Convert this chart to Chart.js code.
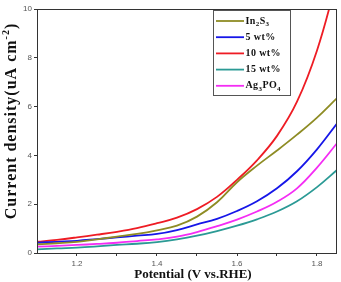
<!DOCTYPE html>
<html>
<head>
<meta charset="utf-8">
<script src="https://cdn.jsdelivr.net/npm/chart.js@4/dist/chart.umd.min.js"></script>
<style>
  html, body { margin: 0; padding: 0; background: #fff; }
  #wrap { width: 341px; height: 282px; position: relative; }
</style>
</head>
<body>
<div id="wrap"><canvas id="c" width="341" height="282"></canvas></div>
<script>
// ---- data ----
const potentials = [1.1, 1.15, 1.2, 1.25, 1.3, 1.35, 1.4, 1.45, 1.5, 1.55, 1.6, 1.65, 1.7, 1.75, 1.8, 1.85];
const in2s3  = [0.35, 0.40, 0.46, 0.56, 0.67, 0.78, 0.93, 1.12, 1.49, 2.08, 2.90, 3.58, 4.20, 4.85, 5.55, 6.35];
const wt5    = [0.42, 0.46, 0.50, 0.57, 0.64, 0.71, 0.78, 0.94, 1.17, 1.40, 1.72, 2.12, 2.65, 3.35, 4.25, 5.31];
const wt10   = [0.46, 0.54, 0.64, 0.75, 0.87, 1.02, 1.22, 1.45, 1.80, 2.30, 3.00, 3.80, 4.80, 6.20, 8.30, 11.2];
const wt15   = [0.15, 0.19, 0.22, 0.27, 0.33, 0.38, 0.45, 0.56, 0.71, 0.90, 1.12, 1.38, 1.70, 2.12, 2.70, 3.40];
const ag3po4 = [0.26, 0.29, 0.33, 0.37, 0.42, 0.49, 0.56, 0.67, 0.86, 1.10, 1.37, 1.70, 2.10, 2.65, 3.50, 4.50];

const seriesLabels = ['In2S3', '5 wt%', '10 wt%', '15 wt%', 'Ag3PO4'];
const seriesValues = [in2s3, wt5, wt10, wt15, ag3po4];
const seriesColors = ['#8E8C24', '#1616E8', '#EE1C24', '#2B9A95', '#F42CF4'];

const xTickLabels = [1.2, 1.4, 1.6, 1.8];
const xTickMarks = [1.2, 1.3, 1.4, 1.5, 1.6, 1.7, 1.8];
const yTickLabels = [0, 2, 4, 6, 8, 10];
const xTitle = 'Potential (V vs.RHE)';
const yTitleMain = 'Current density(uA cm';
const yTitleSup = '-2';
const yTitleEnd = ')';

const datasets = seriesLabels.map((lab, i) => ({
  label: lab,
  data: potentials.map((x, j) => ({ x: x, y: seriesValues[i][j] })),
  borderColor: seriesColors[i],
  backgroundColor: seriesColors[i],
  borderWidth: 1.8,
  pointRadius: 0,
  tension: 0.4,
  fill: false
}));

// draws frame, axis titles and legend
const decor = {
  id: 'decor',
  afterDraw(chart) {
    const ctx = chart.ctx;
    const a = chart.chartArea;
    ctx.save();
    // frame
    ctx.strokeStyle = '#333';
    ctx.lineWidth = 1;
    ctx.strokeRect(Math.round(a.left) + 0.5, Math.round(a.top) + 0.5,
                   Math.round(a.right - a.left) - 1, Math.round(a.bottom - a.top));
    // x title
    ctx.fillStyle = '#111';
    ctx.font = 'bold 13px "Liberation Serif", "Times New Roman", serif';
    ctx.textAlign = 'center';
    ctx.textBaseline = 'middle';
    ctx.fillText(xTitle, 193, 275);
    // y title (rotated)
    ctx.save();
    ctx.translate(12, 121);
    ctx.rotate(-Math.PI / 2);
    ctx.letterSpacing = '1px';
    const fMain = 'bold 16px "Liberation Serif", "Times New Roman", serif';
    const fSup = 'bold 10px "Liberation Serif", "Times New Roman", serif';
    ctx.font = fMain;
    const w1 = ctx.measureText(yTitleMain).width;
    const w3 = ctx.measureText(yTitleEnd).width;
    ctx.font = fSup;
    const w2 = ctx.measureText(yTitleSup).width;
    let x0 = -(w1 + w2 + w3) / 2;
    ctx.textAlign = 'left';
    ctx.font = fMain;
    ctx.fillText(yTitleMain, x0, 0);
    ctx.font = fSup;
    ctx.fillText(yTitleSup, x0 + w1, -6);
    ctx.font = fMain;
    ctx.fillText(yTitleEnd, x0 + w1 + w2, 0);
    ctx.restore();
    // legend
    const bx = 213, by = 10, bw = 77, bh = 85;
    ctx.fillStyle = '#fff';
    ctx.fillRect(bx, by, bw, bh);
    ctx.strokeStyle = '#555';
    ctx.lineWidth = 1;
    ctx.strokeRect(bx + 0.5, by + 0.5, bw, bh);
    const fN = 'bold 10px "Liberation Serif", "Times New Roman", serif';
    const fS = 'bold 7px "Liberation Serif", "Times New Roman", serif';
    seriesLabels.forEach((lab, i) => {
      const y = 21 + i * 16.2;
      ctx.strokeStyle = seriesColors[i];
      ctx.lineWidth = 1.8;
      ctx.beginPath();
      ctx.moveTo(216, y);
      ctx.lineTo(244, y);
      ctx.stroke();
      ctx.fillStyle = '#111';
      ctx.textBaseline = 'middle';
      ctx.textAlign = 'left';
      let x = 245.5;
      for (let k = 0; k < lab.length; k++) {
        const ch = lab[k];
        const sub = /[0-9]/.test(ch) && k > 0 && /[A-Za-z]/.test(lab[k - 1]);
        ctx.font = sub ? fS : fN;
        ctx.fillText(ch, x, sub ? y + 3 : y);
        x += ctx.measureText(ch).width + 0.4;
      }
    });
    ctx.restore();
  }
};

new Chart(document.getElementById('c'), {
  type: 'line',
  data: { datasets: datasets },
  options: {
    responsive: false,
    animation: false,
    devicePixelRatio: 1,
    layout: { padding: { top: 9, right: 4, left: 0, bottom: 0 } },
    plugins: { legend: { display: false }, tooltip: { enabled: false } },
    scales: {
      x: {
        type: 'linear',
        min: 1.1, max: 1.85,
        border: { display: false },
        grid: { display: true, drawOnChartArea: false, drawTicks: true, tickLength: 3, color: '#333' },
        afterBuildTicks: (s) => { s.ticks = xTickMarks.map(v => ({ value: v })); },
        ticks: {
          padding: 3,
          maxRotation: 0,
          autoSkip: false,
          color: '#555',
          font: { family: '"Liberation Sans", Arial, sans-serif', size: 8 },
          callback: (v) => {
            const m = xTickLabels.find(t => Math.abs(t - v) < 1e-6);
            return m !== undefined ? m.toFixed(1) : '';
          }
        },
        afterFit: (s) => { s.height = 29; }
      },
      y: {
        min: 0, max: 10,
        border: { display: false },
        grid: { display: true, drawOnChartArea: false, drawTicks: true, tickLength: 3, color: '#333' },
        ticks: {
          stepSize: 2,
          padding: 2,
          color: '#555',
          font: { family: '"Liberation Sans", Arial, sans-serif', size: 8 },
          callback: (v) => (yTickLabels.includes(v) ? String(v) : '')
        },
        afterFit: (s) => { s.width = 37; }
      }
    }
  },
  plugins: [decor]
});
</script>
</body>
</html>
